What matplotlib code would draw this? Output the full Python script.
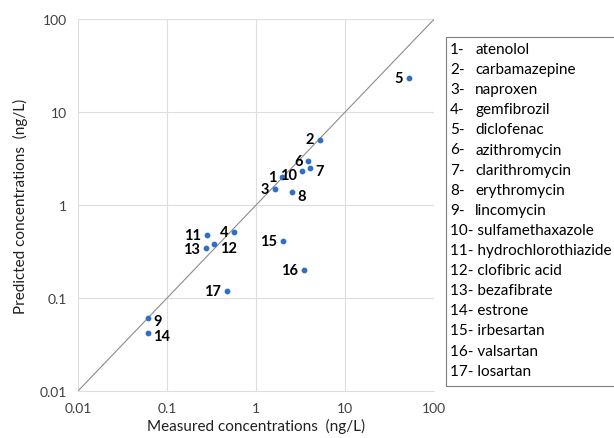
import matplotlib.pyplot as plt
from matplotlib.patches import Rectangle

plt.rcParams['font.family'] = ['Lato', 'DejaVu Sans']

# measured vs predicted (ng/L)
ids = list(range(1, 18))
names = ['atenolol', 'carbamazepine', 'naproxen', 'gemfibrozil', 'diclofenac',
         'azithromycin', 'clarithromycin', 'erythromycin', 'lincomycin',
         'sulfamethaxazole', 'hydrochlorothiazide', 'clofibric acid',
         'bezafibrate', 'estrone', 'irbesartan', 'valsartan', 'losartan']
measured = [1.96, 5.2, 1.63, 0.56, 51.6, 3.84, 4.04, 2.54, 0.061, 3.29,
            0.28, 0.337, 0.274, 0.061, 2.01, 3.46, 0.47]
predicted = [2.0, 5.0, 1.49, 0.51, 23.2, 2.97, 2.5, 1.38, 0.061, 2.32,
             0.475, 0.38, 0.345, 0.042, 0.41, 0.2, 0.119]
# label side: 'l' = left of point, 'r' = right of point
side = ['l', 'l', 'l', 'l', 'l', 'l', 'r', 'r', 'r', 'l',
        'l', 'r', 'l', 'r', 'l', 'l', 'l']
dy = [0, 1, 0, 0, 0, 0, -2, -3, -2, -3, 0, -3, -1, -2, 0, 0, 0]

fig = plt.figure(figsize=(6.14, 4.39), dpi=100)
ax = fig.add_axes([0.127, 0.107, 0.58, 0.847])

ax.plot([0.01, 100], [0.01, 100], color='#8c8c8c', lw=0.8, zorder=1)
ax.scatter(measured, predicted, s=10, color='#2f6fc6', zorder=3)

for i, x, y, s, d in zip(ids, measured, predicted, side, dy):
    if s == 'l':
        ax.annotate(str(i), (x, y), xytext=(-4, d), textcoords='offset points',
                    ha='right', va='center', fontsize=10.5, fontweight='bold')
    else:
        ax.annotate(str(i), (x, y), xytext=(4, d), textcoords='offset points',
                    ha='left', va='center', fontsize=10.5, fontweight='bold')

ax.set_xscale('log')
ax.set_yscale('log')
ax.set_xlim(0.01, 100)
ax.set_ylim(0.01, 100)
ticks = [0.01, 0.1, 1, 10, 100]
tick_labels = ['0.01', '0.1', '1', '10', '100']
ax.set_xticks(ticks)
ax.set_xticklabels(tick_labels)
ax.set_yticks(ticks)
ax.set_yticklabels(tick_labels)
ax.minorticks_off()
ax.tick_params(length=0, labelsize=10, colors='#404040', pad=8)
ax.grid(True, color='#dedede', lw=0.8)
for sp in ['top', 'right', 'left']:
    ax.spines[sp].set_visible(False)
ax.spines['bottom'].set_color('#dedede')
ax.set_axisbelow(True)

ax.set_xlabel('Measured concentrations  (ng/L)', fontsize=11, color='#202020', labelpad=3)
ax.set_ylabel('Predicted concentrations  (ng/L)', fontsize=11, color='#202020', labelpad=8)

# legend box with names
fig.patches.append(Rectangle((446 / 614, 1 - 387 / 439), 0.3, (387 - 38) / 439,
                             transform=fig.transFigure, fill=False,
                             edgecolor='#7f7f7f', lw=0.8))
for k, (i, n) in enumerate(zip(ids, names)):
    yy = 1 - (50 + k * 20.1) / 439
    if i < 10:
        fig.text(450 / 614, yy, f'{i}-', fontsize=11, va='center', ha='left')
        fig.text(475 / 614, yy, n, fontsize=11, va='center', ha='left')
    else:
        fig.text(450 / 614, yy, f'{i}- {n}', fontsize=11, va='center', ha='left')

fig.savefig('out.png', dpi=100)
